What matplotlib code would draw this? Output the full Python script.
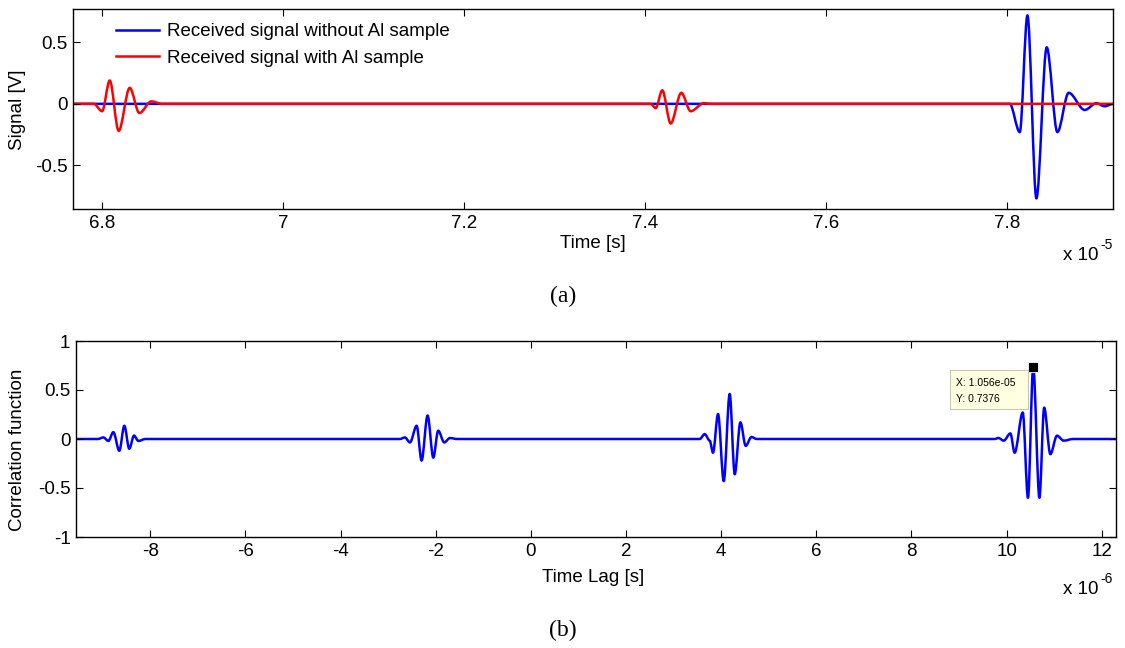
import matplotlib
matplotlib.use("Agg")
import matplotlib.pyplot as plt
from matplotlib.patches import Rectangle, PathPatch
from matplotlib.path import Path
from matplotlib.lines import Line2D
from matplotlib.ticker import FormatStrFormatter

plt.rcParams['font.family'] = ['Liberation Sans', 'DejaVu Sans']
plt.rcParams['axes.unicode_minus'] = False

# (a) received signals, time in units of 1e-5 s (extrema)
time_blue = [6.7675, 7.800, 7.8033, 7.8144, 7.8229, 7.8328, 7.8442, 7.856,
             7.8685, 7.8862, 7.8991, 7.9083, 7.9175]
sig_blue = [0, 0, 0.0, -0.23, 0.72, -0.77, 0.46, -0.23,
            0.09, -0.05, 0.005, -0.02, 0]

time_red = [6.7675, 6.7904, 6.7997, 6.8081, 6.818, 6.8302, 6.8409, 6.8541, 6.866,
            7.4063, 7.4118, 7.4191, 7.4284, 7.4401, 7.4505, 7.4652, 7.4726, 7.9175]
sig_red = [0, 0, -0.06, 0.19, -0.22, 0.13, -0.075, 0.02, 0,
           0, -0.035, 0.11, -0.16, 0.09, -0.06, 0.006, 0, 0]

# (b) cross-correlation, lag in units of 1e-6 s
lag = [-9.56, -9.1, -8.985, -8.88, -8.775, -8.65, -8.544, -8.44, -8.34, -8.25, -8.1,
       -2.75, -2.647, -2.54, -2.40, -2.296, -2.17, -2.05, -1.947, -1.82, -1.70, -1.55,
       3.55, 3.655, 3.76, 3.83, 3.935, 4.055, 4.18, 4.286, 4.405, 4.517, 4.637, 4.75,
       9.75, 9.83, 9.94, 10.08, 10.17, 10.34, 10.45, 10.56, 10.69, 10.79, 10.92,
       11.06, 11.2, 11.4, 12.3]
corr = [0, 0, 0.016, -0.02, 0.07, -0.12, 0.135, -0.10, 0.035, -0.02, 0,
        0, 0.016, -0.035, 0.135, -0.22, 0.24, -0.19, 0.085, -0.035, 0.01, 0,
        0, 0.05, -0.017, -0.14, 0.255, -0.43, 0.46, -0.36, 0.17, -0.07, 0.02, 0,
        0, 0.01, -0.017, 0.057, -0.14, 0.27, -0.60, 0.7376, -0.60, 0.32, -0.155,
        0.034, -0.017, 0, 0]

tip_x = 10.56
tip_y = 0.7376

W, H = 1125, 648
fig = plt.figure(figsize=(11.25, 6.48), dpi=100)
fs = 13.5
LW = 1.8


def px_axes(x0, y0, x1, y1):
    return fig.add_axes([x0 / W, 1 - y1 / H, (x1 - x0) / W, (y1 - y0) / H])


def wave(ax, x, y, color, lw=LW):
    # cubic segments with flat tangents at each turning point
    verts = [(x[0], y[0])]
    codes = [Path.MOVETO]
    for i in range(len(x) - 1):
        h = (x[i + 1] - x[i]) / 3.0
        verts += [(x[i] + h, y[i]), (x[i + 1] - h, y[i + 1]), (x[i + 1], y[i + 1])]
        codes += [Path.CURVE4] * 3
    ax.add_patch(PathPatch(Path(verts, codes), facecolor='none',
                           edgecolor=color, lw=lw, capstyle='round',
                           joinstyle='round'))


def style(ax):
    ax.tick_params(direction='in', top=True, right=True, length=5,
                   width=0.8, labelsize=fs, pad=4)
    for s in ax.spines.values():
        s.set_linewidth(1.0)


ax1 = px_axes(73, 9, 1113, 209)
wave(ax1, time_blue, sig_blue, '#0000ff')
wave(ax1, time_red, sig_red, '#ff0000')
ax1.set_xlim(6.7675, 7.9175)
ax1.set_ylim(-0.856, 0.772)
ax1.set_xticks([6.8, 7.0, 7.2, 7.4, 7.6, 7.8])
ax1.set_yticks([-0.5, 0, 0.5])
ax1.xaxis.set_major_formatter(FormatStrFormatter('%g'))
ax1.yaxis.set_major_formatter(FormatStrFormatter('%g'))
style(ax1)
handles = [Line2D([], [], color='#0000ff', lw=LW),
           Line2D([], [], color='#ff0000', lw=LW)]
ax1.legend(handles, ['Received signal without Al sample',
                     'Received signal with Al sample'],
           loc='upper left', bbox_to_anchor=(0.041, 0.93), frameon=False,
           fontsize=fs, handlelength=2.3, handletextpad=0.45,
           labelspacing=0.5, borderpad=0, borderaxespad=0)

ax2 = px_axes(76, 341, 1116, 537)
wave(ax2, lag, corr, '#0000ff')
ax2.plot([tip_x], [tip_y], marker='s', color='black', markersize=6.5,
         markeredgecolor='white', markeredgewidth=0.6)
ax2.set_xlim(-9.56, 12.3)
ax2.set_ylim(-1, 1)
ax2.set_xticks(range(-8, 13, 2))
ax2.set_yticks([-1, -0.5, 0, 0.5, 1])
ax2.xaxis.set_major_formatter(FormatStrFormatter('%g'))
ax2.yaxis.set_major_formatter(FormatStrFormatter('%g'))
style(ax2)

# data tip box
fig.patches.append(Rectangle((950 / W, 1 - 409 / H), 78 / W, 39 / H,
                             transform=fig.transFigure, facecolor='#ffffe1',
                             edgecolor='#c8c8b0', lw=0.8))
fig.text(956 / W, 1 - 383 / H, 'X: 1.056e-05', fontsize=7.5, va='center')
fig.text(956 / W, 1 - 399 / H, 'Y: 0.7376', fontsize=7.5, va='center')

# axis labels and exponent notes
fig.text(18 / W, 1 - 110 / H, 'Signal [V]', rotation=90, fontsize=fs,
         ha='center', va='center')
fig.text(593 / W, 1 - 243 / H, 'Time [s]', fontsize=fs, ha='center', va='center')
fig.text(1063 / W, 1 - 256 / H, 'x 10', fontsize=fs, ha='left', va='center')
fig.text(1100 / W, 1 - 245 / H, '-5', fontsize=10, ha='left', va='center')

fig.text(18 / W, 1 - 450 / H, 'Correlation function', rotation=90, fontsize=fs,
         ha='center', va='center')
fig.text(593 / W, 1 - 577 / H, 'Time Lag [s]', fontsize=fs, ha='center', va='center')
fig.text(1063 / W, 1 - 590 / H, 'x 10', fontsize=fs, ha='left', va='center')
fig.text(1100 / W, 1 - 579 / H, '-6', fontsize=10, ha='left', va='center')

fig.text(563 / W, 1 - 296 / H, '(a)', fontsize=17, family='Liberation Serif',
         ha='center', va='center')
fig.text(563 / W, 1 - 630 / H, '(b)', fontsize=17, family='Liberation Serif',
         ha='center', va='center')

fig.savefig('out.png', dpi=100)
